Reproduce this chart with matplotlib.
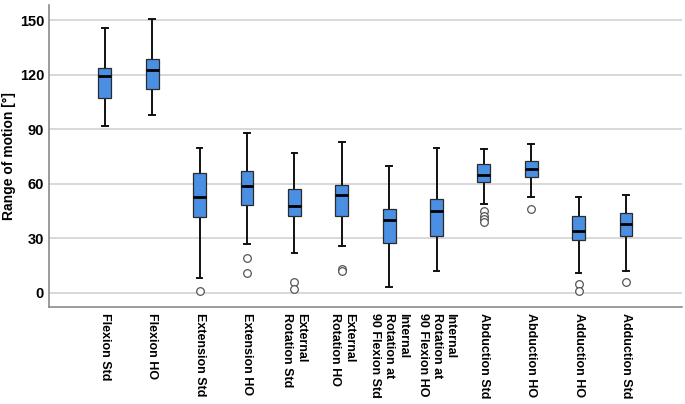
import matplotlib
matplotlib.use('Agg')
import matplotlib.pyplot as plt

# ==========================================
# Data
# ==========================================
LABELS = ['Flexion Std', 'Flexion HO', 'Extension Std', 'Extension HO',
          'External\nRotation Std', 'External\nRotation HO',
          'Internal\nRotation at\n90 Flexion Std', 'Internal\nRotation at\n90 Flexion HO',
          'Abduction Std', 'Abduction HO', 'Adduction HO', 'Adduction Std']
WHIS_LO = [92, 98, 8, 27, 22, 26, 3, 12, 49, 53, 11, 12]
Q1 = [107.5, 112, 41.5, 48.5, 42, 42.5, 27.5, 31, 61, 64, 29, 31]
MEDIAN = [119.5, 122.5, 53, 59, 47.5, 54, 40, 45, 65, 68, 34, 38]
Q3 = [124, 128.5, 66, 67, 57, 59.5, 46, 51.5, 71, 72.5, 42, 44]
WHIS_HI = [146, 151, 80, 88, 77, 83, 70, 80, 79, 82, 53, 54]
FLIERS = [[], [], [1], [19, 11], [6, 2], [13, 12], [], [],
          [45, 42.5, 40.5, 39], [46], [5, 1], [6]]

BOX_COLOR = '#4A8FE2'
GRID_COLOR = '#d2d2d2'
SPINE_COLOR = '#8a8a8a'

plt.rcParams['font.family'] = ['Liberation Sans', 'DejaVu Sans']


def build_stats():
    stats = []
    for i, lab in enumerate(LABELS):
        stats.append({
            'label': lab,
            'whislo': WHIS_LO[i],
            'q1': Q1[i],
            'med': MEDIAN[i],
            'q3': Q3[i],
            'whishi': WHIS_HI[i],
            'fliers': FLIERS[i],
        })
    return stats


def main():
    fig = plt.figure(figsize=(6.85, 4.04), dpi=100)
    ax = fig.add_axes([0.0715, 0.24, 0.924, 0.7475])

    stats = build_stats()
    bp = ax.bxp(stats, positions=range(1, len(LABELS) + 1), widths=0.27,
                patch_artist=True, showfliers=True,
                boxprops={'facecolor': BOX_COLOR, 'edgecolor': '#2b2b2b', 'linewidth': 0.9},
                medianprops={'color': 'black', 'linewidth': 2.0},
                whiskerprops={'color': '#111111', 'linewidth': 1.4},
                capprops={'color': '#111111', 'linewidth': 1.4},
                capwidths=0.12,
                flierprops={'marker': 'o', 'markerfacecolor': 'white',
                            'markeredgecolor': '#555555', 'markersize': 5.5,
                            'markeredgewidth': 0.9})
    for b in bp['boxes']:
        b.set_zorder(3)
    for m in bp['medians']:
        m.set_zorder(4)

    ax.set_xlim(-0.18, 13.18)
    ax.set_ylim(-7.9, 158.5)
    ax.set_yticks([0, 30, 60, 90, 120, 150])
    ax.yaxis.grid(True, color=GRID_COLOR, linewidth=1.2, zorder=0)
    ax.set_axisbelow(True)

    for side in ['top', 'right']:
        ax.spines[side].set_visible(False)
    for side in ['left', 'bottom']:
        ax.spines[side].set_color(SPINE_COLOR)
        ax.spines[side].set_linewidth(1.2)

    ax.tick_params(axis='both', length=0)
    ax.tick_params(axis='y', labelsize=10.5, pad=3.5)
    for t in ax.get_yticklabels():
        t.set_fontweight('bold')

    ax.set_xticks(range(1, len(LABELS) + 1))
    ax.set_xticklabels(LABELS, rotation=270, ha='center', va='top',
                       multialignment='left', fontsize=9, fontweight='bold')
    ax.tick_params(axis='x', pad=4)

    ax.set_ylabel('Range of motion [°]', fontsize=10, fontweight='bold', labelpad=3)

    fig.savefig('out.png', dpi=100)
    plt.close(fig)


if __name__ == '__main__':
    main()
